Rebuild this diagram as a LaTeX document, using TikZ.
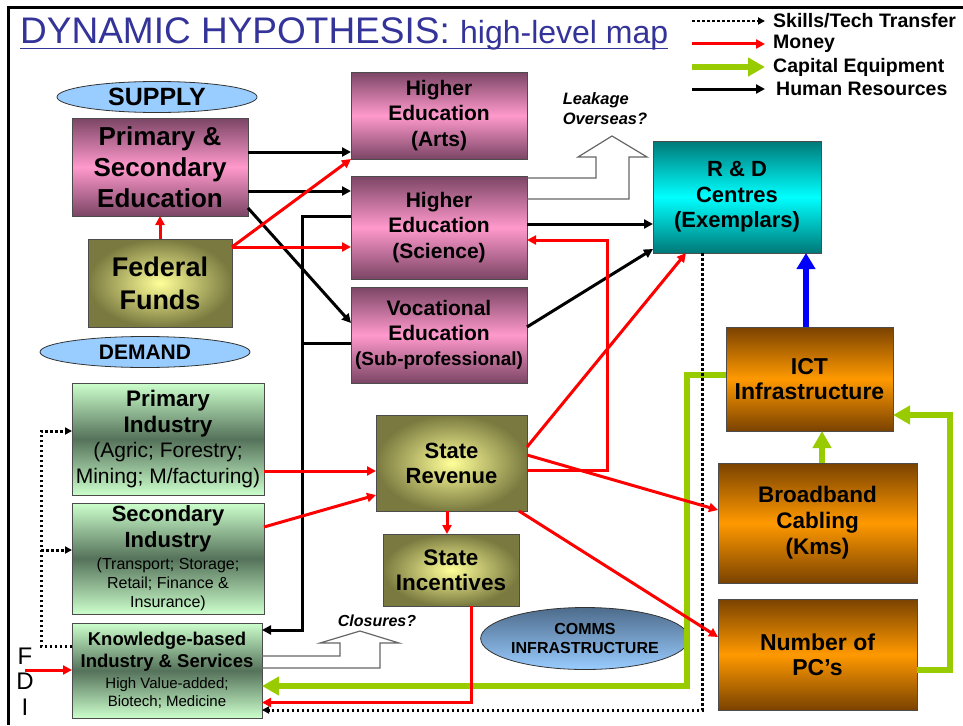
\documentclass[tikz,border=0pt]{standalone}
\usepackage{fontspec}
\setmainfont{Liberation Sans}
\usetikzlibrary{arrows.meta,shapes.geometric}

\definecolor{titleblue}{HTML}{333399}
\definecolor{pinkdark}{HTML}{7B4565}
\definecolor{pinkmid}{HTML}{FF99CC}
\definecolor{olivedark}{HTML}{7A7A40}
\definecolor{olivelight}{HTML}{FFFF99}
\definecolor{greenlight}{HTML}{CCFFCC}
\definecolor{greendark}{HTML}{55725A}
\definecolor{tealdark}{HTML}{007878}
\definecolor{tealmid}{HTML}{00FFFF}
\definecolor{orangedark}{HTML}{7A4200}
\definecolor{orangemid}{HTML}{FF9900}
\definecolor{ellblue}{HTML}{99CCFF}
\definecolor{elldark}{HTML}{4E6C8C}
\definecolor{capgreen}{HTML}{99CC00}

\newcommand{\fsize}[2]{\fontsize{#1}{#2}\selectfont}
\newcommand{\litetext}[2]{{\mdseries\fontsize{#1}{#1}\selectfont #2}}

\begin{document}
\begin{tikzpicture}[x=1pt, y=-1pt,
    box/.style={draw=black!70, line width=0.8pt, inner sep=0pt, outer sep=0pt, align=center, font=\bfseries},
    wh/.style 2 args={minimum width=#1pt, minimum height=#2pt},
    pinkbox/.style={box, top color=pinkdark, bottom color=pinkdark, middle color=pinkmid},
    olivebox/.style={box, inner color=olivelight, outer color=olivedark},
    greenbox/.style={box, top color=greenlight, bottom color=greenlight, middle color=greendark},
    tealbox/.style={box, top color=tealdark, bottom color=tealdark, middle color=tealmid},
    orangebox/.style={box, top color=orangedark, bottom color=orangedark, middle color=orangemid},
    oval/.style={ellipse, draw=black!80, line width=0.8pt, inner sep=0pt, outer sep=0pt, align=center, font=\bfseries},
    legend/.style={anchor=west, inner sep=0pt, font=\bfseries\fsize{19.5}{19.5}},
    hr/.style={line width=3pt, -{Triangle[length=9pt,width=9pt]}},
    money/.style={red, line width=3pt, -{Triangle[length=9pt,width=9pt]}},
    capital/.style={capgreen, line width=5.5pt, -{Triangle[length=17pt,width=18pt]}},
    skills/.style={line width=3pt, dash pattern=on 2.5pt off 2.5pt, -{Triangle[length=7pt,width=7pt]}},
    leak/.style={black!60, line width=1.2pt}]
\useasboundingbox (0,0) rectangle (963,725);
\draw[line width=3pt] (8,725) -- (8,8) -- (963,8);

% title and key
\node[anchor=base west, inner sep=0pt, text=titleblue] (title) at (20,44)
    {\fsize{37}{37}DYNAMIC HYPOTHESIS: \fsize{32}{32}high-level map};
\draw[titleblue, line width=1.5pt] ([yshift=-4.5pt]title.base west) -- ([yshift=-4.5pt]title.base east);

\node[legend] (lg1) at (773,21) {Skills/Tech Transfer};
\node[legend] (lg2) at (773,44) {Money};
\node[legend] (lg3) at (773,67) {Capital Equipment};
\node[legend] (lg4) at (776,89) {Human Resources};

% supply side
\node[oval, wh={200}{31}, fill=ellblue, font=\bfseries\fsize{25}{25}] (supply) at (157,97) {SUPPLY};
\node[pinkbox, wh={176}{98}, font=\bfseries\fsize{26}{31}] (ps) at (160,167) {Primary \&\\Secondary\\Education};
\node[olivebox, wh={144}{88}, font=\bfseries\fsize{27}{33}] (ff) at (160,283) {Federal\\Funds};
\node[oval, wh={210}{31}, fill=ellblue, font=\bfseries\fsize{21}{21}] (demand) at (145,352) {DEMAND};

\node[pinkbox, wh={176}{87}, font=\bfseries\fsize{21}{25.5}] (arts) at (439,115.5) {Higher\\Education\\(Arts)};
\node[pinkbox, wh={176}{103}, font=\bfseries\fsize{21}{25.5}] (sci) at (439,227.5) {Higher\\Education\\(Science)};
\node[pinkbox, wh={176}{96}, font=\bfseries\fsize{21}{25}] (voc) at (439,335)
    {Vocational\\Education\\{\fsize{19}{25}(Sub-professional)}};
\node[tealbox, wh={168}{112}, font=\bfseries\fsize{22}{25.5}] (rd) at (737,197) {R \& D\\Centres\\(Exemplars)};

% demand side
\node[greenbox, wh={192}{112}, font=\bfseries\fsize{22.5}{25.5}] (pind) at (168,439)
    {Primary\\Industry\\\litetext{21}{(Agric; Forestry;}\\\litetext{21}{Mining; M/facturing)}};
\node[greenbox, wh={192}{111}, font=\bfseries\fsize{22}{26}] (sind) at (168,558.5)
    {Secondary\\Industry\\[-4pt]\litetext{16}{(Transport; Storage;}\\[-7pt]\litetext{16}{Retail; Finance \&}\\[-7pt]\litetext{16}{Insurance)}};
\node[greenbox, wh={190}{95}, font=\bfseries\fsize{18.5}{22}] (kb) at (167,670.5)
    {Knowledge-based\\Industry \& Services\\[-1pt]\litetext{15}{High Value-added;}\\[-4pt]\litetext{15}{Biotech; Medicine}};

\node[olivebox, wh={151}{96}, font=\bfseries\fsize{22}{25}] (rev) at (451.5,463) {State\\Revenue};
\node[olivebox, wh={136}{72}, font=\bfseries\fsize{22.5}{25}] (inc) at (451,570) {State\\Incentives};
\node[oval, wh={180}{62}, top color=elldark, bottom color=ellblue, font=\bfseries\fsize{16}{19}] (comms) at (585,638.5)
    {COMMS\\INFRASTRUCTURE};

\node[orangebox, wh={167}{104}, font=\bfseries\fsize{23}{25}] (ict) at (809.5,379) {ICT\\Infrastructure};
\node[orangebox, wh={199}{120}, font=\bfseries\fsize{22.5}{26}] (bb) at (817.5,523) {Broadband\\Cabling\\(Kms)};
\node[orangebox, wh={199}{111}, font=\bfseries\fsize{23}{25}] (pcs) at (817.5,654.5) {Number of\\PC's};

\node[font=\bfseries\itshape\fsize{16.5}{20}, align=left] (leaktxt) at (605,109) {Leakage\\Overseas?};
\node[font=\bfseries\itshape\fsize{16}{16}] (clostxt) at (377,621) {Closures?};
\node[font=\fsize{24}{24}] (fdiF) at (25,656) {F};
\node[font=\fsize{24}{24}] (fdiD) at (25,681) {D};
\node[font=\fsize{24}{24}] (fdiI) at (25,707) {I};

% key arrows
\draw[skills, line width=2.5pt] ([xshift=-81pt]lg1.west) -- ([xshift=-8pt]lg1.west);
\draw[money] ([xshift=-81pt]lg2.west) -- ([xshift=-8pt]lg2.west);
\draw[capital] ([xshift=-81pt]lg3.west) -- ([xshift=-8pt]lg3.west);
\draw[hr] ([xshift=-84pt]lg4.west) -- ([xshift=-11pt]lg4.west);

% human resources
\coordinate (ps1) at ([yshift=15pt]ps.east);
\coordinate (ps2) at ([yshift=-24pt]ps.east);
\draw[hr] (ps1) -- (ps1 -| arts.west);
\draw[hr] (ps2) -- (ps2 -| sci.west);
\draw[hr] ([yshift=-41pt]ps.east) -- ([yshift=12pt]voc.west);
\coordinate (sc1) at ([yshift=3.5pt]sci.east);
\draw[hr] (sc1) -- (sc1 -| rd.west);
\draw[hr] ([yshift=8pt]voc.east) -- ([yshift=-52pt]rd.west);
\coordinate (hrbus) at (302,216);
\draw[hr] ([yshift=11.5pt]sci.west) -- (hrbus) |- ([yshift=40.5pt]kb.east);
\coordinate (vc1) at ([yshift=-8pt]voc.west);
\draw[line width=3pt] (vc1) -- (vc1 -| hrbus);

% leakage and closures
\draw[leak] ([yshift=49.5pt]sci.east) -- ++(69,0) -- ++(0,-21) -- ++(-18,0) -- ++(34,-21) -- ++(35,21) -- ++(-18,0) |- ([yshift=28.5pt]sci.east);
\draw[leak] ([yshift=14.5pt]kb.east) -- ++(78,0) -- ++(0,-13) -- ++(-20,0) -- ++(40,-12) -- ++(39,12) -- ++(-19,0) |- ([yshift=2.5pt]kb.east);

% capital equipment
\draw[capital] ([xshift=4.5pt]bb.north) -- ([xshift=12.5pt]ict.south);
\coordinate (gright) at (950,415);
\draw[capital] ([yshift=-15.5pt]pcs.east) -| (gright) -- (gright -| ict.east);
\coordinate (gbus) at (687,686);
\draw[capital] ([yshift=4pt]ict.west) -| (gbus) -- (gbus -| kb.east);

% skills transfer
\coordinate (skl) at (41,431);
\draw[skills] ([yshift=24.5pt]kb.west) -| (skl) -- (skl -| pind.west);
\coordinate (s2) at ([yshift=8.5pt]sind.west);
\draw[skills] (s2 -| skl) -- (s2);
\draw[skills] ([xshift=-35pt]rd.south) |- ([yshift=-39.5pt]kb.east);

% money
\draw[money] (ff.north) -- (ps.south);
\draw[money] ([yshift=36pt]ff.east) -- (arts.south west);
\draw[money] ([yshift=36pt]ff.east) -- ([yshift=-19.5pt]sci.west);
\coordinate (pi1) at ([yshift=-32pt]pind.east);
\draw[money] (pi1) -- (pi1 -| rev.west);
\draw[money] ([yshift=31.5pt]sind.east) -- ([yshift=-32pt]rev.west);
\draw[money] ([xshift=-4.5pt]rev.south) -- ([xshift=-4pt]inc.north);
\draw[money] ([yshift=16pt]rev.east) -- ([xshift=-51pt]rd.south);
\coordinate (rloop) at (607,240);
\draw[money] ([yshift=-7pt]rev.east) -| (rloop) -- (rloop -| sci.east);
\draw[money] ([yshift=8pt]rev.east) -- ([yshift=13pt]bb.west);
\draw[money] ([xshift=-8pt]rev.south east) -- ([yshift=17.5pt]pcs.west);
\draw[money] ([xshift=20pt]inc.south) |- ([yshift=-32pt]kb.east);
\coordinate (fdi) at (25,670);
\draw[money] (fdi) -- (fdi -| kb.west);

% ICT to R&D
\draw[blue, line width=6pt, -{Triangle[length=16pt,width=18pt]}] ([xshift=-3.5pt]ict.north) -- ([xshift=69pt]rd.south);
\end{tikzpicture}
\end{document}
